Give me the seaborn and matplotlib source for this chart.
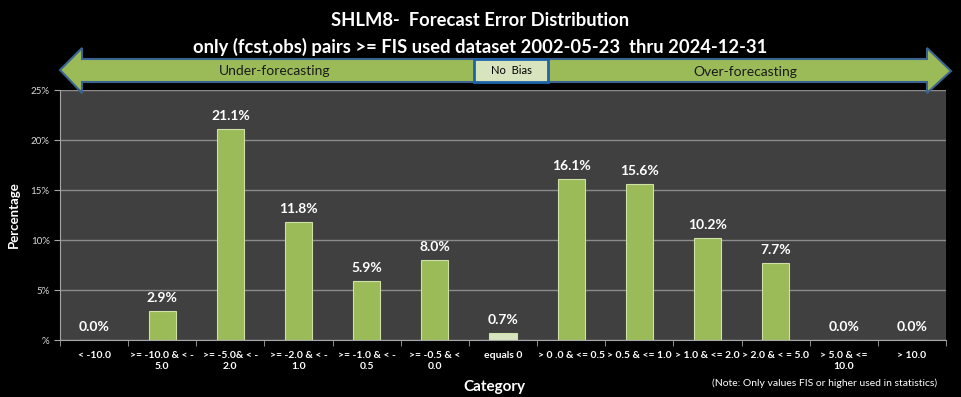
import matplotlib
matplotlib.use('Agg')
import matplotlib.pyplot as plt
import seaborn as sns
import pandas as pd
from matplotlib.patches import Polygon, Rectangle

# Data
categories = ['< -10.0', '>= -10.0 & < -\n5.0', '>= -5.0& < -\n2.0', '>= -2.0 & < -\n1.0',
              '>= -1.0 & < -\n0.5', '>= -0.5 & <\n0.0', 'equals 0', '> 0 .0 & <= 0.5',
              '> 0.5 & <= 1.0', '> 1.0 & <= 2.0', '> 2.0 & < = 5.0', '> 5.0 & <=\n10.0', '> 10.0']
percentages = [0.0, 2.9, 21.1, 11.8, 5.9, 8.0, 0.7, 16.1, 15.6, 10.2, 7.7, 0.0, 0.0]
bar_colors = ['#9bbb59'] * 6 + ['#d7e4bd'] + ['#9bbb59'] * 6
yticks = [0, 5, 10, 15, 20, 25]
ytick_labels = ['%', '5%', '10%', '15%', '20%', '25%']

data = pd.DataFrame({'Category': categories, 'Percentage': percentages})

sns.set_style('dark')
plt.rcParams['font.family'] = ['Lato', 'DejaVu Sans']

W, H = 961, 397
fig = plt.figure(figsize=(W / 100, H / 100), dpi=100, facecolor='black')
ax = fig.add_axes([60 / W, 1 - 340 / H, 886 / W, 250 / H])
ax.set_facecolor('#404040')

sns.barplot(data=data, x='Category', y='Percentage', hue='Category', palette=bar_colors,
            legend=False, width=0.4, saturation=1, ax=ax, edgecolor='#cfe0a8', linewidth=0.8)

n = len(categories)
ax.set_xticks(range(n))
ax.set_xticks([i - 0.5 for i in range(n + 1)], minor=True)
ax.set_xlim(-0.5, n - 0.5)
ax.set_ylim(0, 25)
ax.set_yticks(yticks)
ax.set_yticklabels(ytick_labels, color='#d9d9d9', fontsize=7)
ax.grid(axis='y', color='#8c8c8c', linewidth=1)
ax.grid(axis='x', visible=False)
ax.set_axisbelow(True)
ax.tick_params(axis='x', which='major', length=0, labelcolor='white', labelsize=7.5, pad=8)
ax.tick_params(axis='x', which='minor', bottom=True, length=4, color='#a6a6a6')
ax.tick_params(axis='y', colors='#a6a6a6', length=4, left=True, labelcolor='#d9d9d9')
for lab in ax.get_xticklabels():
    lab.set_fontweight('bold')
for s in ['top', 'right']:
    ax.spines[s].set_visible(False)
ax.spines['left'].set_color('#a6a6a6')
ax.spines['bottom'].set_color('#a6a6a6')

ax.set_xlabel('Category', color='white', fontsize=11, fontweight='bold')
ax.xaxis.set_label_coords(0.49, -0.16)
ax.set_ylabel('Percentage', color='white', fontsize=9.5, fontweight='bold')
ax.yaxis.set_label_coords(-0.045, 0.5)

# value labels
for p, v in zip(ax.patches, percentages):
    ax.annotate(f'{v:.1f}%', (p.get_x() + p.get_width() / 2., p.get_height()),
                ha='center', va='bottom', xytext=(0, 5), textcoords='offset points',
                color='white', fontsize=10, fontweight='bold')

# titles
fig.text(0.5, 1 - 20 / H, 'SHLM8-  Forecast Error Distribution', ha='center', va='center',
         color='white', fontsize=13.25, fontweight='bold')
fig.text(0.5, 1 - 47 / H, 'only (fcst,obs) pairs >= FIS used dataset 2002-05-23  thru 2024-12-31',
         ha='center', va='center', color='white', fontsize=13.25, fontweight='bold')

# double arrow
def px(x, y):
    return (x / W, 1 - y / H)

arrow = [px(60, 70), px(82, 48), px(82, 59), px(927, 59), px(927, 48), px(951, 71),
         px(927, 93), px(927, 82), px(82, 82), px(82, 93)]
fig.patches.append(Polygon(arrow, closed=True, transform=fig.transFigure, facecolor='#9bbb59',
                           edgecolor='#3b6590', linewidth=1.5, zorder=5))
x0, y0 = px(474, 82)
x1, y1 = px(548, 59)
fig.patches.append(Rectangle((x0, y0), x1 - x0, y1 - y0, transform=fig.transFigure,
                             facecolor='#d7e4bd', edgecolor='#1f63a8', linewidth=2, zorder=6))
fig.text(*px(511, 71), 'No  Bias', ha='center', va='center', fontsize=8, color='black', zorder=7)
fig.text(*px(275, 71), 'Under-forecasting', ha='center', va='center', fontsize=10,
         color='#1a1a1a', zorder=7)
fig.text(*px(745, 72), 'Over-forecasting', ha='center', va='center', fontsize=10,
         color='#1a1a1a', zorder=7)

fig.text(*px(825, 383), '(Note: Only values FIS or higher used in statistics)', ha='center',
         va='center', fontsize=7.5, color='white')

fig.savefig('out.png', dpi=100, facecolor='black')
